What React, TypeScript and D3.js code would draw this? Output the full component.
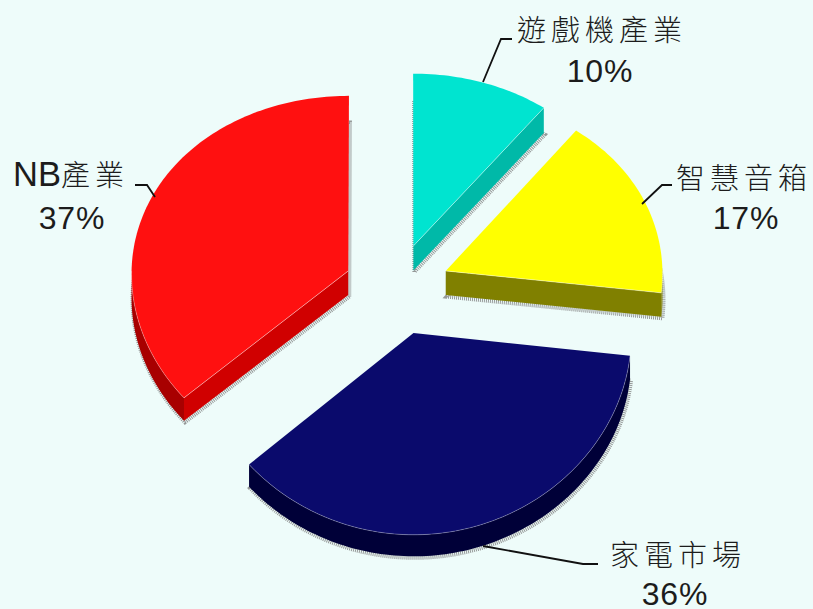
import React from "react";
import * as d3 from "d3";

const categories = ["遊戲機產業", "智慧音箱", "家電市場", "NB產業"];
const shares = [10, 17, 36, 37];
const percentLabels = ["10%", "17%", "36%", "37%"];
const topColors = ["#00E4D0", "#FFFF00", "#0A0A6C", "#FF1010"];
const cutColors = ["#00B9A8", "#808000", "#000040", "#D00000"];
const rimColors = ["#00A090", "#808000", "#000038", "#A80000"];

const W = 813, H = 609;
const BG = "#EEFCFA";
const CX = 397, CY = 289;
const EXPLODE = 0.245;
const RX = 217;
const WARP = 0.03;

// layout of the labels (not data): name centre, percent centre, leader polyline
const labelLayout = [
  { nx: 602, ny: 41, px: 600, py: 82, leader: [[483, 82], [501, 39], [512, 39]] },
  { nx: 744, ny: 189, px: 746, py: 229, leader: [[642, 204], [662, 185], [672, 185]] },
  { nx: 678, ny: 566, px: 675, py: 605, leader: [[483, 546], [583, 564], [598, 564]] },
  { nx: 71, ny: 186, px: 72, py: 229, leader: [[135, 185], [147, 185], [155, 197]] },
];

const pieGen = d3.pie<number>().sort(null).startAngle(0).endAngle(2 * Math.PI);
const slices = pieGen(shares);
const lineGen = d3.line();

function projector(mid: number) {
  const ox = EXPLODE * Math.sin(mid);
  const oz = EXPLODE * Math.cos(mid);
  return (theta: number, r: number, low: boolean): [number, number] => {
    const t = theta + WARP * Math.sin(2 * theta);
    const X = ox + r * Math.sin(t);
    const Z = oz + r * Math.cos(t);
    const x = CX + X * (RX + 3 * -Z);
    const y = CY - Z * (187 - 10 * Z);
    const depth = 24 + 2 * Math.min(Z, 0.6);
    return [x, low ? y + depth : y];
  };
}

function arcAngles(a0: number, a1: number): number[] {
  const n = Math.max(2, Math.ceil((a1 - a0) / 0.02));
  return d3.range(n + 1).map((i) => a0 + ((a1 - a0) * i) / n);
}

const cjkFont = "'Noto Sans CJK TC', sans-serif";
const latinFont = "'Liberation Sans', sans-serif";

export default function App() {
  const drawOrder = [0, 1, 3, 2];
  return (
    <svg
      width={W}
      height={H}
      viewBox={`0 0 ${W} ${H}`}
      style={{ position: "fixed", left: 0, top: 0, background: BG }}
    >
      {drawOrder.map((i) => {
        const s = slices[i];
        const a0 = s.startAngle, a1 = s.endAngle;
        const mid = (a0 + a1) / 2;
        const p = projector(mid);
        const arc = arcAngles(a0, a1);
        const topPts = [p(0, 0, false), ...arc.map((t) => p(t, 1, false))];

        const rimA0 = Math.max(a0, Math.PI / 2), rimA1 = Math.min(a1, 1.5 * Math.PI);
        const rimAngles = rimA1 > rimA0 ? arcAngles(rimA0, rimA1) : [];
        const rimPts = [
          ...rimAngles.map((t) => p(t, 1, false)),
          ...rimAngles.slice().reverse().map((t) => p(t, 1, true)),
        ];

        const cutAngle = Math.sin(a1) > 0 && a1 < Math.PI ? a1 : Math.sin(a0) < 0 ? a0 : null;
        const cutPts =
          cutAngle === null
            ? null
            : [p(0, 0, false), p(cutAngle, 1, false), p(cutAngle, 1, true), p(0, 0, true)];

        const lowOutline = [p(0, 0, true), ...arc.map((t) => p(t, 1, true))];
        const shadow = lowOutline.map(([x, y]) => [x + 1, y + 1.5] as [number, number]);
        const edge = cutAngle !== null ? [p(cutAngle, 1, false), p(0, 0, false)] : null;

        return (
          <g key={categories[i]}>
            <path
              d={lineGen(shadow) + "Z"}
              fill="none"
              stroke="#808080"
              strokeWidth={4}
              strokeDasharray="1 1"
              opacity={0.8}
            />
            {rimPts.length > 0 && <path d={lineGen(rimPts) + "Z"} fill={rimColors[i]} />}
            {cutPts && <path d={lineGen(cutPts) + "Z"} fill={cutColors[i]} />}
            <path d={lineGen(topPts) + "Z"} fill={topColors[i]} />
            {edge && (
              <path
                d={lineGen(edge) as string}
                fill="none"
                stroke="#FFFFFF"
                strokeOpacity={0.55}
                strokeWidth={0.8}
              />
            )}
            {rimAngles.length > 0 && (
              <path
                d={lineGen(rimAngles.map((t) => p(t, 1, false))) as string}
                fill="none"
                stroke="#FFFFFF"
                strokeOpacity={0.4}
                strokeWidth={0.7}
              />
            )}
          </g>
        );
      })}

      {categories.map((name, i) => {
        const l = labelLayout[i];
        const runs = name.match(/[A-Za-z]+|[^A-Za-z]+/g) || [name];
        return (
          <g key={name} fill="#1c1c1c">
            <path
              d={lineGen(l.leader as [number, number][]) as string}
              fill="none"
              stroke="#111"
              strokeWidth={1.8}
            />
            <text x={l.nx} y={l.ny} textAnchor="middle">
              {runs.map((r) =>
                /[A-Za-z]/.test(r) ? (
                  <tspan key={r} fontFamily={latinFont} fontSize={34.5}>
                    {r}
                  </tspan>
                ) : (
                  <tspan key={r} fontFamily={cjkFont} fontWeight={300} fontSize={29} letterSpacing={5}>
                    {r}
                  </tspan>
                )
              )}
            </text>
            <text
              x={l.px}
              y={l.py}
              textAnchor="middle"
              fontFamily={latinFont}
              fontSize={32}
              letterSpacing={0.8}
            >
              {percentLabels[i]}
            </text>
          </g>
        );
      })}
    </svg>
  );
}
